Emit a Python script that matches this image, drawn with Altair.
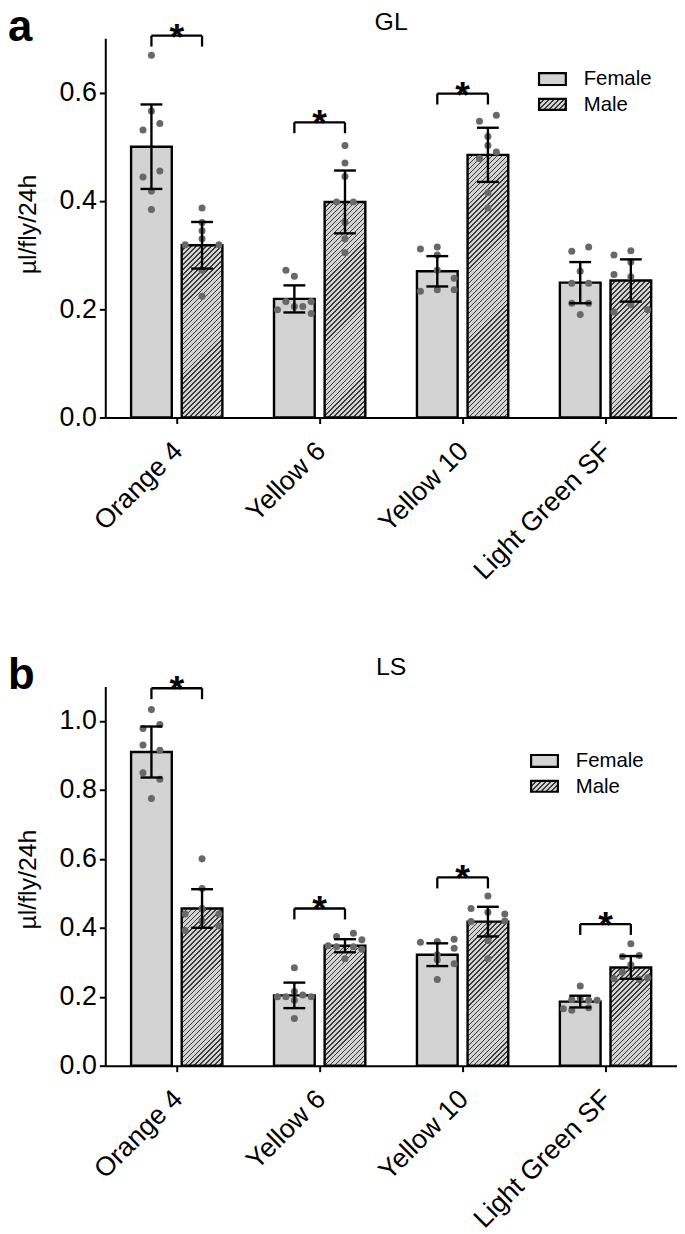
import json
import altair as alt

FONT = "Liberation Sans"

GROUPS = ["Orange 4", "Yellow 6", "Yellow 10", "Light Green SF"]
SEXES = ["Female", "Male"]
Y_TITLE = "µl/fly/24h"

# ---------------- panel a : GL ----------------
GL_FEMALE_MEAN = [0.500, 0.219, 0.270, 0.249]
GL_MALE_MEAN = [0.318, 0.398, 0.485, 0.253]
GL_FEMALE_SD = [0.078, 0.025, 0.028, 0.038]
GL_MALE_SD = [0.043, 0.058, 0.050, 0.039]
GL_FEMALE_POINTS = [
    [0.669, 0.566, 0.543, 0.531, 0.455, 0.444, 0.418, 0.384],
    [0.272, 0.261, 0.199, 0.214, 0.205, 0.205, 0.214, 0.192],
    [0.311, 0.315, 0.300, 0.272, 0.257, 0.236, 0.233, 0.236],
    [0.307, 0.315, 0.270, 0.248, 0.248, 0.211, 0.211, 0.190],
]
GL_FEMALE_JITTER = [
    [0, 0, 1, -1, 1, -1, 0, 0],
    [-1, 0, -2, -1, 0, 1, 2, 2],
    [-2, 0, 0, 0, 2, 2, -2, 0],
    [-1, 1, 0, -1, 1, -1, 1, 0],
]
GL_MALE_POINTS = [
    [0.387, 0.360, 0.345, 0.330, 0.319, 0.319, 0.272, 0.224],
    [0.502, 0.470, 0.445, 0.398, 0.398, 0.360, 0.330, 0.304],
    [0.558, 0.547, 0.519, 0.502, 0.490, 0.478, 0.415, 0.387],
    [0.308, 0.300, 0.264, 0.260, 0.208, 0.195, 0.199, 0.287],
]
GL_MALE_JITTER = [
    [0, 0, 0, 0, -2, 2, 0, 0],
    [0, 0, 0, -1, 1, 0, 0, 0],
    [1, -1, 0, 0, 1, -1, 0, 0],
    [0, -2, -2, 0, 0, -2, 2, 0],
]
GL_SIG = [0.705, 0.545, 0.598, None]

# ---------------- panel b : LS ----------------
LS_FEMALE_MEAN = [0.910, 0.204, 0.322, 0.186]
LS_MALE_MEAN = [0.456, 0.348, 0.418, 0.285]
LS_FEMALE_SD = [0.074, 0.037, 0.033, 0.017]
LS_MALE_SD = [0.056, 0.019, 0.043, 0.033]
LS_FEMALE_POINTS = [
    [1.033, 0.990, 0.978, 0.930, 0.915, 0.850, 0.831, 0.775],
    [0.284, 0.200, 0.200, 0.205, 0.200, 0.190, 0.137, 0.215],
    [0.358, 0.367, 0.341, 0.360, 0.322, 0.307, 0.296, 0.250],
    [0.231, 0.192, 0.190, 0.195, 0.190, 0.168, 0.161, 0.165],
]
LS_FEMALE_JITTER = [
    [0, 1, -1, -1, 1, -1, 1, 0],
    [0, -2, -1, 1, 2, 0, 0, 0],
    [-2, 2, 2, 0, 0, 0, 2, 0],
    [0, -1, 2, 0, 1, 1, -1, -2],
]
LS_MALE_POINTS = [
    [0.600, 0.514, 0.456, 0.440, 0.440, 0.392, 0.405, 0.420],
    [0.384, 0.375, 0.365, 0.348, 0.345, 0.345, 0.338, 0.310],
    [0.492, 0.456, 0.440, 0.445, 0.418, 0.420, 0.310, 0.363],
    [0.354, 0.317, 0.320, 0.293, 0.271, 0.252, 0.255, 0.250],
]
LS_MALE_JITTER = [
    [0, 0, 0, -2, 2, -2, 2, 0],
    [1, -1, 2, -2, -1, 1, 2, 0],
    [0, -2, 2, 0, -2, 2, 0, 0],
    [0, -1, 1, 0, -1, -2, 2, 1],
]
LS_SIG = [1.095, 0.456, 0.546, 0.411]

# ---------------- layout / style ----------------
PLOT_W = 576
PLOT_H = 382
STEP = PLOT_W / len(GROUPS)      # px per group
BAR_W = 41                        # px
PAIR = 51                         # px between female/male centres
JIT = 8.5                         # px per jitter slot
LEG = 11                          # bracket leg length, px
CAP = 22                          # error cap width, px
HP = PAIR / 2 / STEP
HB = BAR_W / 2 / STEP
JU = JIT / STEP
HC = CAP / 2 / STEP
FEMALE_FILL = "#d3d3d3"
DOT = "#686868"
INK = "black"


def hatch(w, h, period=5.0, lw=1.5, dark="#3a3a3a", light="#d3d3d3"):
    """Diagonal '///' stripes as a linear gradient in bounding-box units."""
    L = w + h
    a = L / (w * w + h * h)
    stops = []
    s = 0.0
    while s < L:
        t0 = s / L
        t1 = min((s + lw) / L, 1.0)
        t2 = min((s + period) / L, 1.0)
        stops += [
            {"offset": round(t0, 5), "color": dark},
            {"offset": round(t1, 5), "color": dark},
            {"offset": round(t1, 5), "color": light},
            {"offset": round(t2, 5), "color": light},
        ]
        s += period
    return {"gradient": "linear", "x1": 0, "y1": 0,
            "x2": round(a * w, 5), "y2": round(a * h, 5), "stops": stops}


def panel(letter, name, ymax, yticks, fm, mm, fsd, msd, fp, mp, fj, mj, sig,
          leg_x, leg_y, name_y, letter_y, title_y):
    ppu = PLOT_H / ymax
    bars, pts = [], []
    for gi, g in enumerate(GROUPS):
        for sex, means, sds, P, J in (("Female", fm, fsd, fp, fj),
                                      ("Male", mm, msd, mp, mj)):
            xc = gi + (-HP if sex == "Female" else HP)
            m, s = means[gi], sds[gi]
            fill = FEMALE_FILL if sex == "Female" else hatch(BAR_W, m * ppu)
            bars.append({"group": g, "sex": sex, "x0": xc - HB, "x1": xc + HB,
                         "xc": xc, "ca": xc - HC, "cb": xc + HC,
                         "mean": m, "lo": m - s, "hi": m + s, "fill": fill})
            for v, j in zip(P[gi], J[gi]):
                pts.append({"x": xc + j * JU, "v": v})
    br_h, br_v, stars = [], [], []
    for gi, s in enumerate(sig):
        if s is None:
            continue
        br_h.append({"xa": gi - HP, "xb": gi + HP, "y": s})
        for xx in (gi - HP, gi + HP):
            br_v.append({"x": xx, "y": s, "y2": s - LEG / ppu})
        stars.append({"x": gi, "y": s})

    xs = alt.Scale(domain=[-0.5, len(GROUPS) - 0.5], nice=False, zero=False)
    ys = alt.Scale(domain=[0, ymax], nice=False, zero=True)
    x_axis = alt.Axis(values=list(range(len(GROUPS))),
                      labelExpr=f"{json.dumps(GROUPS)}[datum.value]",
                      labelAngle=-45, labelAlign="right", labelBaseline="top",
                      labelPadding=14, labelOffset=-8, labelFontSize=27,
                      labelLimit=400, labelOverlap=False, labelFlush=False,
                      labelBound=False, tickSize=6, title=None)
    y_axis = alt.Axis(values=yticks, format=".1f", labelFontSize=27,
                      labelPadding=3, tickSize=6, labelFlush=False,
                      labelOverlap=False, title=Y_TITLE, titleFontSize=25,
                      titleFontWeight="normal", titleAngle=270, titleX=-78,
                      titleY=title_y, titleAlign="center",
                      titleBaseline="middle")

    def X(f):
        return alt.X(f, scale=xs, axis=x_axis)

    def Y(f, **kw):
        return alt.Y(f, scale=ys, axis=y_axis, **kw)

    bar_layer = alt.Chart(alt.Data(values=bars)).mark_bar(
        stroke=INK, strokeWidth=2.4).encode(
        x=X("x0:Q"), x2="x1:Q",
        y=Y("mean:Q", stack=None), y2=alt.datum(0),
        fill=alt.Fill("fill:N", scale=None),
    )
    pt_layer = alt.Chart(alt.Data(values=pts)).mark_circle(
        size=50, color=DOT, opacity=1).encode(x=X("x:Q"), y=Y("v:Q"))
    err = alt.Chart(alt.Data(values=bars))
    err_line = err.mark_rule(color=INK, strokeWidth=2.4).encode(
        x=X("xc:Q"), y=Y("lo:Q"), y2="hi:Q")
    cap_hi = err.mark_rule(color=INK, strokeWidth=2.4).encode(
        x=X("ca:Q"), x2="cb:Q", y=Y("hi:Q"))
    cap_lo = err.mark_rule(color=INK, strokeWidth=2.4).encode(
        x=X("ca:Q"), x2="cb:Q", y=Y("lo:Q"))
    brh = alt.Chart(alt.Data(values=br_h)).mark_rule(
        color=INK, strokeWidth=2.3).encode(x=X("xa:Q"), x2="xb:Q", y=Y("y:Q"))
    brv = alt.Chart(alt.Data(values=br_v)).mark_rule(
        color=INK, strokeWidth=2.3).encode(x=X("x:Q"), y=Y("y:Q"), y2="y2:Q")
    star = alt.Chart(alt.Data(values=stars)).mark_text(
        text="*", fontSize=38, fontWeight="bold", baseline="alphabetic",
        dy=14, font=FONT, color=INK).encode(x=X("x:Q"), y=Y("y:Q"))

    # legend (hand-built, hatched swatch)
    lx, ly = leg_x, leg_y
    sw_f = alt.Chart(alt.Data(values=[{"k": SEXES[0]}])).mark_rect(
        fill=FEMALE_FILL, stroke=INK, strokeWidth=2.2).encode(
        x=alt.value(lx), x2=alt.value(lx + 27),
        y=alt.value(ly), y2=alt.value(ly + 12))
    sw_m = alt.Chart(alt.Data(values=[{"k": SEXES[1]}])).mark_rect(
        fill=hatch(27, 11), stroke=INK, strokeWidth=2.2).encode(
        x=alt.value(lx), x2=alt.value(lx + 27),
        y=alt.value(ly + 26), y2=alt.value(ly + 37))
    tx_f = alt.Chart(alt.Data(values=[{"t": SEXES[0]}])).mark_text(
        align="left", baseline="middle", fontSize=20.5, font=FONT,
        color=INK).encode(x=alt.value(lx + 45), y=alt.value(ly + 6),
                          text="t:N")
    tx_m = alt.Chart(alt.Data(values=[{"t": SEXES[1]}])).mark_text(
        align="left", baseline="middle", fontSize=20.5, font=FONT,
        color=INK).encode(x=alt.value(lx + 45), y=alt.value(ly + 32),
                          text="t:N")

    name_t = alt.Chart(alt.Data(values=[{"t": name}])).mark_text(
        align="center", baseline="alphabetic", fontSize=25, font=FONT,
        color=INK).encode(x=alt.value(PLOT_W / 2), y=alt.value(name_y),
                          text="t:N")
    letter_t = alt.Chart(alt.Data(values=[{"t": letter}])).mark_text(
        align="left", baseline="alphabetic", fontSize=44, fontWeight="bold",
        font=FONT, color=INK).encode(x=alt.value(-98), y=alt.value(letter_y),
                                     text="t:N")

    return alt.layer(bar_layer, pt_layer, err_line, cap_hi, cap_lo, brh, brv,
                     star, sw_f, sw_m, tx_f, tx_m, name_t, letter_t).properties(
        width=PLOT_W, height=PLOT_H)


pa = panel("a", "GL", 0.7, [0.0, 0.2, 0.4, 0.6],
           GL_FEMALE_MEAN, GL_MALE_MEAN, GL_FEMALE_SD, GL_MALE_SD,
           GL_FEMALE_POINTS, GL_MALE_POINTS, GL_FEMALE_JITTER, GL_MALE_JITTER,
           GL_SIG, leg_x=437, leg_y=35, name_y=-8, letter_y=3, title_y=187)
pb = panel("b", "LS", 1.1, [0.0, 0.2, 0.4, 0.6, 0.8, 1.0],
           LS_FEMALE_MEAN, LS_MALE_MEAN, LS_FEMALE_SD, LS_MALE_SD,
           LS_FEMALE_POINTS, LS_MALE_POINTS, LS_FEMALE_JITTER, LS_MALE_JITTER,
           LS_SIG, leg_x=429, leg_y=69, name_y=-12, letter_y=3, title_y=194)

chart = alt.vconcat(pa, pb, spacing=71).properties(
    padding={"top": -6, "left": 0, "right": 0, "bottom": 0}
).configure(font=FONT).configure_view(stroke=None).configure_axis(
    labelFont=FONT, titleFont=FONT, labelColor=INK, titleColor=INK,
    domainColor=INK, tickColor=INK, domainWidth=2, tickWidth=2, grid=False)

chart.save("out.html", embed_options={"renderer": "svg", "actions": False})
